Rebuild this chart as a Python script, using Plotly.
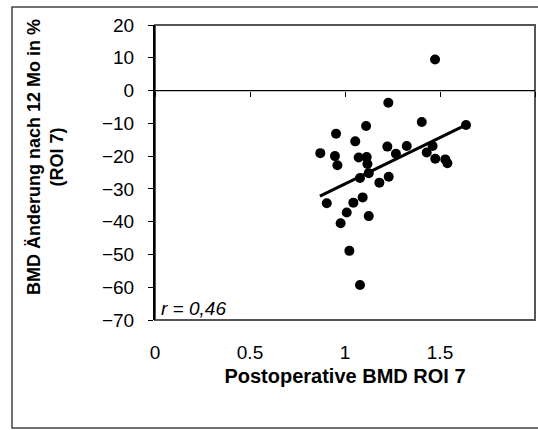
import plotly.graph_objects as go

# Data
bmd_post = [1.474, 1.228, 1.404, 1.637, 1.111, 0.953, 1.054, 1.223, 1.325, 1.461,
            1.430, 0.870, 1.268, 0.947, 1.072, 1.114, 1.475, 1.528, 0.960, 1.539,
            1.118, 1.125, 1.079, 1.230, 1.181, 0.904, 1.044, 1.093, 1.009, 0.977,
            1.125, 1.023, 1.079]
bmd_change = [9.5, -3.7, -9.6, -10.5, -10.8, -13.2, -15.5, -17.1, -16.9, -16.9,
              -18.9, -19.1, -19.3, -20.0, -20.4, -20.3, -20.8, -21.0, -22.8, -22.2,
              -22.4, -25.2, -26.7, -26.3, -28.1, -34.4, -34.2, -32.6, -37.2, -40.5,
              -38.3, -48.9, -59.3]
trend_x = [0.868, 1.637]
trend_y = [-32.2, -10.5]

x_ticks = [0, 0.5, 1, 1.5, 2]
x_ticktext = ["0", "0.5", "1", "1.5", "2"]
y_ticks = [20, 10, 0, -10, -20, -30, -40, -50, -60, -70]

x_title = "Postoperative BMD ROI 7"
y_title = "BMD Änderung nach 12 Mo in %<br>(ROI 7)"
r_text = "r = 0,46"

FONT = "Liberation Sans, Arial, sans-serif"

fig = go.Figure()
fig.add_trace(go.Scatter(
    x=bmd_post, y=bmd_change, mode="markers",
    marker=dict(color="black", size=10, line=dict(width=0)),
    showlegend=False, hoverinfo="x+y"))
fig.add_trace(go.Scatter(
    x=trend_x, y=trend_y, mode="lines",
    line=dict(color="black", width=3),
    showlegend=False, hoverinfo="skip"))
# invisible trace to activate the zero-crossing x axis (ticks at y=0)
fig.add_trace(go.Scatter(x=[x_ticks[0], x_ticks[-1]], y=[0, 0], xaxis="x2",
                         mode="lines", line=dict(color="black", width=1.2),
                         showlegend=False, hoverinfo="skip"))

W, H = 538, 430
ml, mr, mt, mb = 155, 3, 25, 110
pw, ph = W - ml - mr, H - mt - mb

def px(xp):
    return (xp - ml) / pw

def py(yp):
    return (H - mb - yp) / ph

fig.update_layout(
    width=W, height=H,
    margin=dict(l=ml, r=mr, t=mt, b=mb, pad=0),
    paper_bgcolor="white", plot_bgcolor="white",
    font=dict(family=FONT, color="black", size=19),
    xaxis=dict(range=[x_ticks[0], x_ticks[-1]], tickvals=x_ticks, ticktext=x_ticktext,
               showgrid=False, zeroline=False, showline=False, ticks="",
               ticklabelstandoff=19, tickfont=dict(size=19),
               title=dict(text="<b>" + x_title + "</b>", font=dict(size=20), standoff=6)),
    xaxis2=dict(range=[x_ticks[0], x_ticks[-1]], tickvals=x_ticks, overlaying="x",
                anchor="free", position=(0 - y_ticks[-1]) / (y_ticks[0] - y_ticks[-1]),
                showticklabels=False, showgrid=False, zeroline=False,
                showline=False, ticks="outside", ticklen=5, tickwidth=1.2, tickcolor="black"),
    yaxis=dict(range=[y_ticks[-1], y_ticks[0]], tickvals=y_ticks,
               showgrid=False, zeroline=False, showline=True, linecolor="black", linewidth=2,
               ticks="outside", ticklen=5, tickwidth=1.2, tickcolor="black",
               ticklabelstandoff=10, tickfont=dict(size=19)),
    shapes=[
        dict(type="rect", xref="paper", yref="paper", x0=0, x1=1, y0=0, y1=1,
             line=dict(color="#555555", width=2), layer="below"),
        dict(type="rect", xref="paper", yref="paper", x0=px(12), x1=px(545),
             y0=py(428), y1=py(7), line=dict(color="#444444", width=1.5)),
    ],
    annotations=[
        dict(text="<b>" + y_title + "</b>", xref="paper", yref="paper",
             x=px(45), y=py(157), xanchor="center", yanchor="middle",
             textangle=-90, showarrow=False, font=dict(size=18)),
        dict(text="<i>" + r_text + "</i>", xref="paper", yref="paper",
             x=px(159), y=py(321), xanchor="left", yanchor="bottom",
             showarrow=False, font=dict(size=19)),
    ],
)

fig.write_html("out.html")
